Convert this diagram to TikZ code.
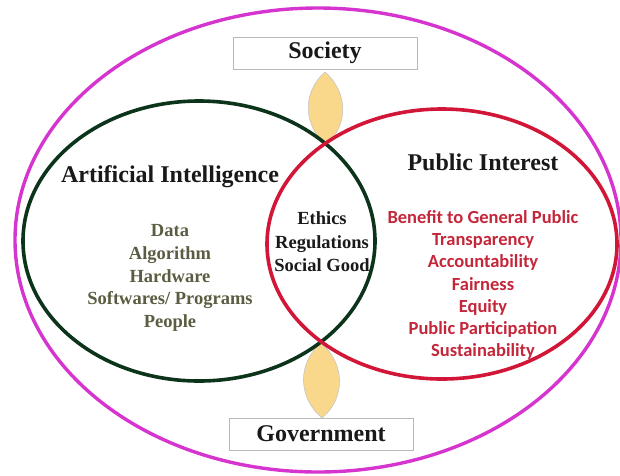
\documentclass[tikz,border=0pt]{standalone}
\usepackage{fontspec}
\setmainfont{Liberation Serif}
\newfontfamily\calibri{Carlito}

\definecolor{ringpink}{RGB}{214,52,206}
\definecolor{aigreen}{RGB}{12,52,26}
\definecolor{pired}{RGB}{210,22,56}
\definecolor{olivetext}{RGB}{92,92,66}
\definecolor{redtext}{RGB}{196,38,58}
\definecolor{leafgold}{RGB}{249,216,140}

\tikzset{
	heading/.style={inner sep=0pt, text=black!90, font=\bfseries\fontsize{24}{28}\selectfont},
	labelbox/.style={heading, draw=gray!55, fill=white, minimum width=184pt, minimum height=32pt},
	ailist/.style={inner sep=0pt, align=center, text=olivetext, font=\bfseries\fontsize{18.5}{22.7}\selectfont},
	midlist/.style={inner sep=0pt, align=center, text=black!90, font=\bfseries\fontsize{18.5}{23.5}\selectfont},
	pilist/.style={inner sep=0pt, align=center, text=redtext, font=\calibri\bfseries\fontsize{18.5}{22.3}\selectfont},
	leaf/.style={fill=leafgold, draw=gray!45, line width=0.6pt}
}

\begin{document}
\begin{tikzpicture}[x=1pt,y=-1pt]
	\useasboundingbox (0,0) rectangle (620,475);
	% the two leaves joining the labels to the overlap
	\coordinate (topleaf-a) at (325,72);
	\coordinate (topleaf-b) at (326,145);
	\coordinate (botleaf-a) at (321,343);
	\coordinate (botleaf-b) at (322,418);
	\draw[leaf] (topleaf-a) .. controls +(23,20) and +(23,-20) .. (topleaf-b)
		.. controls +(-23,-20) and +(-23,20) .. (topleaf-a);
	\draw[leaf] (botleaf-a) .. controls +(24,20) and +(24,-20) .. (botleaf-b)
		.. controls +(-24,-20) and +(-24,20) .. (botleaf-a);
	% outer ring, then the two sets
	\draw[ringpink, line width=3.4pt] (318,240) ellipse [x radius=303, y radius=232];
	\draw[aigreen, line width=3.6pt] (199,241) ellipse [x radius=176, y radius=140];
	\draw[pired, line width=3.6pt] (442,244) ellipse [x radius=175, y radius=135];
	% labels
	\node[labelbox] (society) at (325,53) {Society};
	\node[labelbox] (government) at (321,434) {Government};
	\node[heading] (ai) at (170,177) {Artificial Intelligence};
	\node[heading] (pi) at (483,162) {Public Interest};
	\node[ailist] (aiparts) at (170,278) {Data\\Algorithm\\Hardware\\Softwares/ Programs\\People};
	\node[midlist] (overlap) at (322,242) {Ethics\\Regulations\\Social Good};
	\node[pilist] (piparts) at (483,285) {Benefit to General Public\\Transparency\\Accountability\\Fairness\\Equity\\Public Participation\\Sustainability};
\end{tikzpicture}
\end{document}
